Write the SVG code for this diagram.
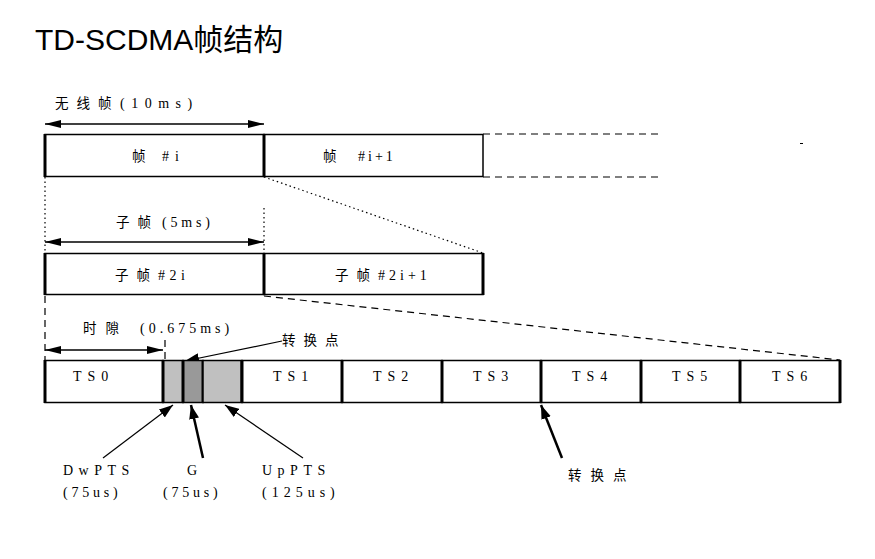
<svg xmlns="http://www.w3.org/2000/svg" width="875" height="559" viewBox="0 0 875 559">
<defs>
<style>
.box{fill:#fff;stroke:#000;stroke-width:1.5}
.thick{stroke:#000;stroke-width:3}
.dash{fill:none;stroke:#000;stroke-width:1.2;stroke-dasharray:7,5}
.dot{fill:none;stroke:#000;stroke-width:1.2;stroke-dasharray:1.5,3}
.dim{stroke:#000;stroke-width:1.3;marker-start:url(#ah);marker-end:url(#ah)}
.ptr{stroke:#000;stroke-width:1.2;marker-end:url(#ap)}
.ptr2{stroke:#000;stroke-width:2.5;marker-end:url(#ap)}
.cn{font-family:"Noto Sans CJK SC","Noto Sans CJK JP",sans-serif;font-size:13.5px;fill:#000}
.lt{font-family:"Liberation Serif",serif;font-size:14px;fill:#000}
</style>
<marker id="ah" viewBox="0 0 16 8" refX="16" refY="4" markerWidth="16" markerHeight="8" markerUnits="userSpaceOnUse" orient="auto-start-reverse"><path d="M0,0 L16,4 L0,8 z" fill="#000"/></marker>
<marker id="ap" viewBox="0 0 14 10" refX="14" refY="5" markerWidth="14" markerHeight="10" markerUnits="userSpaceOnUse" orient="auto"><path d="M0,0 L14,5 L0,10 z" fill="#000"/></marker>
</defs>
<rect width="875" height="559" fill="#fff"/>
<text x="35" y="50" font-family="Liberation Sans, Noto Sans CJK SC, sans-serif" font-size="30" fill="#000">TD-SCDMA<tspan font-family="Noto Sans CJK SC, sans-serif" font-size="30">帧结构</tspan></text>

<g id="connectors">
<line class="dim" x1="45" y1="124" x2="264" y2="124"/>
<line class="dim" x1="45" y1="242" x2="264" y2="242"/>
<line class="dim" x1="45" y1="350" x2="163" y2="350"/>
<line class="dot" x1="45" y1="177" x2="45" y2="253"/>
<line class="dot" x1="264" y1="208" x2="264" y2="253"/>
<line class="dot" x1="264" y1="177" x2="483" y2="253"/>
<line class="dash" x1="45" y1="296" x2="45" y2="360"/>
<line class="dash" x1="165" y1="340" x2="165" y2="360"/>
<line class="dash" x1="264" y1="296" x2="840" y2="360"/>
<line class="dash" x1="483" y1="134" x2="663" y2="134"/>
<line class="dash" x1="483" y1="177" x2="663" y2="177"/>
<line x1="800" y1="143.5" x2="803" y2="143.5" stroke="#000" stroke-width="1"/>
<line class="ptr" x1="282" y1="341" x2="185" y2="361"/>
<line class="ptr" x1="103" y1="458" x2="173" y2="405"/>
<line class="ptr2" x1="203" y1="458" x2="191" y2="405"/>
<line class="ptr" x1="303" y1="458" x2="225" y2="405"/>
<line class="ptr2" x1="562" y1="458" x2="541" y2="405"/>
</g>

<g id="frame-i">
<rect class="box" x="45" y="134.5" width="219" height="42"/>
<line class="thick" x1="45" y1="134" x2="45" y2="177" stroke-width="2"/>
<text class="cn" x="132" y="161">帧<tspan class="lt" x="162" letter-spacing="6">#i</tspan></text>
</g>
<g id="frame-i1">
<rect class="box" x="264" y="134.5" width="219" height="42"/>
<line class="thick" x1="264" y1="134" x2="264" y2="177"/>
<text class="cn" x="323" y="161">帧<tspan class="lt" x="358" letter-spacing="3">#i+1</tspan></text>
</g>
<g id="label-radio">
<text class="cn" x="55" y="108" letter-spacing="8">无线帧</text>
<text class="lt" x="120" y="108" letter-spacing="6.5">(10ms)</text>
</g>

<g id="label-sub">
<text class="cn" x="116" y="227" letter-spacing="8">子帧</text>
<text class="lt" x="162" y="227" letter-spacing="3.8">(5ms)</text>
</g>
<g id="subframe-2i">
<rect class="box" x="45" y="253.5" width="219" height="41"/>
<line class="thick" x1="45" y1="253" x2="45" y2="295" stroke-width="2"/>
<text class="cn" x="115" y="280" letter-spacing="8">子帧<tspan class="lt" x="158" letter-spacing="4.5">#2i</tspan></text>
</g>
<g id="subframe-2i1">
<rect class="box" x="264" y="253.5" width="219" height="41"/>
<line class="thick" x1="264" y1="253" x2="264" y2="295"/>
<line class="thick" x1="483" y1="253" x2="483" y2="295" stroke-width="2"/>
<text class="cn" x="335" y="280" letter-spacing="8">子帧<tspan class="lt" x="378" letter-spacing="4">#2i+1</tspan></text>
</g>

<g id="label-slot">
<text class="cn" x="83" y="333" letter-spacing="9">时隙</text>
<text class="lt" x="140" y="333" letter-spacing="4">(0.675ms)</text>
</g>
<g id="label-switch-top">
<text class="cn" x="282" y="345" letter-spacing="8">转换点</text>
</g>

<g id="ts0">
<rect class="box" x="45" y="360.5" width="118" height="42"/>
<line class="thick" x1="45" y1="360" x2="45" y2="403" stroke-width="2"/>
<text class="lt" x="73" y="381" letter-spacing="6">TS0</text>
</g>
<g id="dwpts">
<rect x="163" y="360.5" width="20" height="42" fill="#c0c0c0" stroke="#000" stroke-width="1.5"/>
<line class="thick" x1="163" y1="360" x2="163" y2="403"/>
</g>
<g id="gp">
<rect x="183" y="360.5" width="20" height="42" fill="#999999" stroke="#000" stroke-width="1.5"/>
<line class="thick" x1="183" y1="360" x2="183" y2="403"/>
<line class="thick" x1="203" y1="360" x2="203" y2="403"/>
</g>
<g id="uppts">
<rect x="203" y="360.5" width="39" height="42" fill="#c0c0c0" stroke="#000" stroke-width="1.5"/>
<line class="thick" x1="242" y1="360" x2="242" y2="403"/>
</g>
<g id="ts1">
<rect class="box" x="242" y="360.5" width="100" height="42"/>
<line class="thick" x1="242" y1="360" x2="242" y2="403"/>
<text class="lt" x="273" y="381" letter-spacing="6">TS1</text>
</g>
<g id="ts2">
<rect class="box" x="342" y="360.5" width="100" height="42"/>
<line class="thick" x1="342" y1="360" x2="342" y2="403"/>
<text class="lt" x="373" y="381" letter-spacing="6">TS2</text>
</g>
<g id="ts3">
<rect class="box" x="442" y="360.5" width="99" height="42"/>
<line class="thick" x1="442" y1="360" x2="442" y2="403"/>
<text class="lt" x="473" y="381" letter-spacing="6">TS3</text>
</g>
<g id="ts4">
<rect class="box" x="541" y="360.5" width="100" height="42"/>
<line class="thick" x1="541" y1="360" x2="541" y2="403"/>
<text class="lt" x="572" y="381" letter-spacing="6">TS4</text>
</g>
<g id="ts5">
<rect class="box" x="641" y="360.5" width="99" height="42"/>
<line class="thick" x1="641" y1="360" x2="641" y2="403"/>
<text class="lt" x="672" y="381" letter-spacing="6">TS5</text>
</g>
<g id="ts6">
<rect class="box" x="740" y="360.5" width="100" height="42"/>
<line class="thick" x1="740" y1="360" x2="740" y2="403"/>
<line class="thick" x1="840" y1="360" x2="840" y2="403" stroke-width="2"/>
<text class="lt" x="772" y="381" letter-spacing="6">TS6</text>
</g>

<g id="label-dwpts">
<text class="lt" x="63" y="475" letter-spacing="5.5">DwPTS</text>
<text class="lt" x="63" y="497" letter-spacing="3.8">(75us)</text>
</g>
<g id="label-g">
<text class="lt" x="187" y="475">G</text>
<text class="lt" x="163" y="497" letter-spacing="3.8">(75us)</text>
</g>
<g id="label-uppts">
<text class="lt" x="262" y="475" letter-spacing="5.5">UpPTS</text>
<text class="lt" x="262" y="497" letter-spacing="5">(125us)</text>
</g>
<g id="label-switch-bottom">
<text class="cn" x="568" y="480" letter-spacing="9">转换点</text>
</g>
</svg>
